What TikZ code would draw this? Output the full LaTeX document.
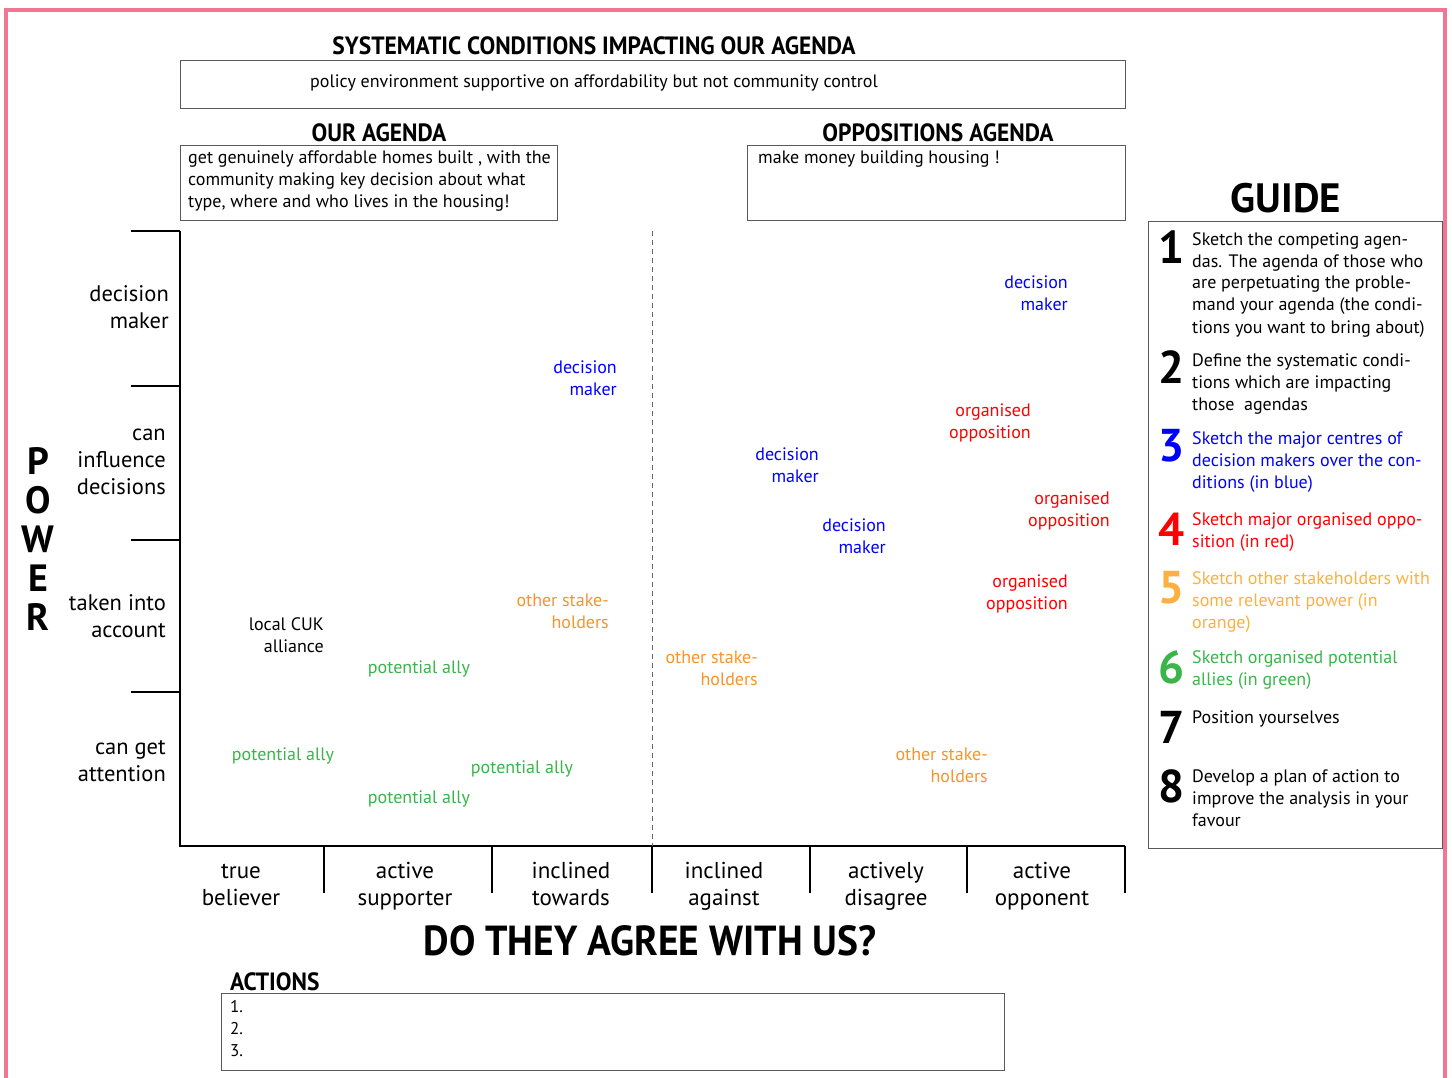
\documentclass[tikz,border=0pt]{standalone}
\usepackage{fontspec}
\setmainfont{PT Sans}
\newfontfamily\headfont{PT Sans}[FakeStretch=0.94]

\definecolor{frame}{RGB}{240,118,148}
\definecolor{dmblue}{RGB}{0,0,255}
\definecolor{oppred}{RGB}{255,0,0}
\definecolor{stakeorange}{RGB}{247,148,41}
\definecolor{guideorange}{RGB}{251,176,64}
\definecolor{allygreen}{RGB}{57,181,74}

\tikzset{
	head/.style={font=\headfont\bfseries\fontsize{25}{27}\selectfont, inner sep=0pt, anchor=base},
	agbox/.style={draw=black!65, line width=1pt},
	txt/.style={font=\fontsize{18}{22}\selectfont, inner sep=0pt},
	lbl/.style={txt, align=right, anchor=base east},
	rowlbl/.style={font=\fontsize{22.5}{27}\selectfont, inner sep=0pt, align=right, anchor=base east},
	collbl/.style={font=\fontsize{23}{27}\selectfont, inner sep=0pt, align=center, anchor=base},
	pwr/.style={font=\bfseries\fontsize{38}{38}\selectfont, inner sep=0pt, anchor=base},
	gnum/.style={font=\bfseries\fontsize{46}{46}\selectfont, inner sep=0pt, anchor=base},
	gtxt/.style={font=\fontsize{18}{22}\selectfont, inner sep=0pt, align=left, anchor=base west},
}

\begin{document}
\begin{tikzpicture}[x=1pt,y=-1pt]
	\useasboundingbox (0,0) rectangle (1452,1078);
	%========
	%Frame
	%========
	\draw[frame,line width=4pt] (6,1082) -- (6,10) -- (1445,10) -- (1445,1082);

	%========
	%Agendas
	%========
	\node[head] (syshead) at (594,55) {SYSTEMATIC CONDITIONS IMPACTING OUR AGENDA};
	\draw[agbox] (180,61) rectangle (1125,109);
	\node[txt,anchor=base] (systxt) at (594,88) {policy environment supportive on affordability but not community control};

	\node[head] (ourhead) at (379,142) {OUR AGENDA};
	\draw[agbox] (180,146) rectangle (557,221);
	\node[txt,align=left,anchor=base west] (ourtxt) at (188,208) {get genuinely affordable homes built , with the\\community making key decision about what\\type, where and who lives in the housing!};

	\node[head] (opphead) at (938,142) {OPPOSITIONS AGENDA};
	\draw[agbox] (747,146) rectangle (1125,221);
	\node[txt,anchor=base west] (opptxt) at (758,164) {make money building housing !};

	%========
	%Axes
	%========
	\draw[line width=2pt] (180,231) -- (180,846) -- (1125,846);
	\draw[black!60,dash pattern=on 5pt off 4pt,line width=1pt] (652,231) -- (652,846);

	\draw[line width=2pt] (131,231) -- (180,231);	%decision maker
	\draw[line width=2pt] (131,386) -- (180,386);	%can influence
	\draw[line width=2pt] (131,540) -- (180,540);	%taken into account
	\draw[line width=2pt] (131,692) -- (180,692);	%can get attention

	\draw[line width=2pt] (324,846) -- (324,893);
	\draw[line width=2pt] (492,846) -- (492,893);
	\draw[line width=2pt] (652,846) -- (652,893);
	\draw[line width=2pt] (810,846) -- (810,893);
	\draw[line width=2pt] (967,846) -- (967,893);
	\draw[line width=2pt] (1125,846) -- (1125,893);

	%Power levels
	\node[rowlbl] (rdm) at (169,328) {decision\\maker};
	\node[rowlbl] (rinf) at (166,494) {can\\influence\\decisions};
	\node[rowlbl] (rtak) at (166,637) {taken into\\account};
	\node[rowlbl] (ratt) at (166,781) {can get\\attention};

	\node[pwr] (pP) at (38,474) {P};
	\node[pwr] (pO) at (38,513) {O};
	\node[pwr] (pW) at (38,552) {W};
	\node[pwr] (pE) at (38,591) {E};
	\node[pwr] (pR) at (38,630) {R};

	%Agreement levels
	\node[collbl] (ctrue) at (241,905) {true\\believer};
	\node[collbl] (csup) at (405,905) {active\\supporter};
	\node[collbl] (ctow) at (571,905) {inclined\\towards};
	\node[collbl] (cag) at (724,905) {inclined\\against};
	\node[collbl] (cdis) at (886,905) {actively\\disagree};
	\node[collbl] (copp) at (1042,905) {active\\opponent};

	\node[head,font=\headfont\bfseries\fontsize{42}{44}\selectfont] (agree) at (650,955) {DO THEY AGREE WITH US?};

	%========
	%Players
	%========
	\node[lbl,dmblue] (dm1) at (1068,311) {decision\\maker};
	\node[lbl,dmblue] (dm2) at (617,395) {decision\\maker};
	\node[lbl,dmblue] (dm3) at (819,482) {decision\\maker};
	\node[lbl,dmblue] (dm4) at (886,553) {decision\\maker};

	\node[lbl,oppred] (op1) at (1031,438) {organised\\opposition};
	\node[lbl,oppred] (op2) at (1110,526) {organised\\opposition};
	\node[lbl,oppred] (op3) at (1068,609) {organised\\opposition};

	\node[lbl,stakeorange] (sh1) at (609,628) {other stake-\\holders};
	\node[lbl,stakeorange] (sh2) at (758,685) {other stake-\\holders};
	\node[lbl,stakeorange] (sh3) at (988,782) {other stake-\\holders};

	\node[lbl] (cuk) at (324,652) {local CUK\\alliance};

	\node[txt,allygreen,anchor=base] (al1) at (419,673) {potential ally};
	\node[txt,allygreen,anchor=base] (al2) at (283,760) {potential ally};
	\node[txt,allygreen,anchor=base] (al3) at (522,773) {potential ally};
	\node[txt,allygreen,anchor=base] (al4) at (419,803) {potential ally};

	%========
	%Actions
	%========
	\node[head,anchor=base west] (acthead) at (230,990) {ACTIONS};
	\draw[agbox] (221,993) rectangle (1004,1070);
	\node[txt,font=\fontsize{17}{22}\selectfont,align=left,anchor=base west] (acttxt) at (230,1056) {1.\\2.\\3.};

	%========
	%Guide
	%========
	\node[head,font=\bfseries\fontsize{41}{43}\selectfont] (guide) at (1286,213) {GUIDE};
	\draw[agbox] (1148,222) rectangle (1442,848);

	\node[gnum] (g1) at (1172,264) {1};
	\node[gtxt] (t1) at (1192,333) {Sketch the competing agen-\\das. The agenda of those who\\are perpetuating the proble-\\mand your agenda (the condi-\\tions you want to bring about)};
	\node[gnum] (g2) at (1172,383) {2};
	\node[gtxt] (t2) at (1192,410) {Define the systematic condi-\\tions which are impacting\\those~ agendas};
	\node[gnum,dmblue] (g3) at (1172,461) {3};
	\node[gtxt,dmblue] (t3) at (1192,488) {Sketch the major centres of\\decision makers over the con-\\ditions (in blue)};
	\node[gnum,oppred] (g4) at (1172,545) {4};
	\node[gtxt,oppred] (t4) at (1192,547) {Sketch major organised oppo-\\sition (in red)};
	\node[gnum,guideorange] (g5) at (1172,603) {5};
	\node[gtxt,guideorange] (t5) at (1192,628) {Sketch other stakeholders with\\some relevant power (in\\orange)};
	\node[gnum,allygreen] (g6) at (1172,683) {6};
	\node[gtxt,allygreen] (t6) at (1192,685) {Sketch organised potential\\allies (in green)};
	\node[gnum] (g7) at (1172,743) {7};
	\node[gtxt] (t7) at (1192,723) {Position yourselves};
	\node[gnum] (g8) at (1172,802) {8};
	\node[gtxt] (t8) at (1192,826) {Develop a plan of action to\\improve the analysis in your\\favour};
\end{tikzpicture}
\end{document}
